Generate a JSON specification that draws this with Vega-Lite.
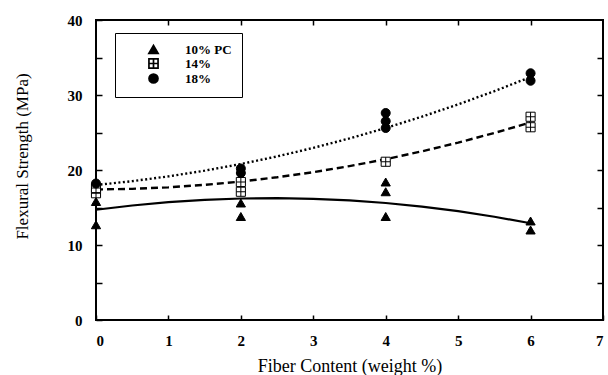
{
  "$schema": "https://vega.github.io/schema/vega-lite/v6.json",
  "width": 507,
  "height": 300,
  "autosize": "none",
  "padding": {"left": 96, "top": 20, "right": 5, "bottom": 55},
  "background": "white",
  "config": {
    "view": {"stroke": "black", "strokeWidth": 2},
    "font": "Liberation Serif",
    "axis": {"grid": false, "domain": false, "tickColor": "black", "tickWidth": 1.5, "labelColor": "black", "titleColor": "black", "labelFont": "Liberation Serif", "titleFont": "Liberation Serif", "labelFontWeight": "bold", "labelFontSize": 15, "titleFontWeight": "normal"}
  },
  "datasets": {
    "points": [
      {"series": "10% PC", "x": 0, "y": 12.7}, {"series": "10% PC", "x": 0, "y": 15.8},
      {"series": "10% PC", "x": 2, "y": 13.8}, {"series": "10% PC", "x": 2, "y": 15.6},
      {"series": "10% PC", "x": 4, "y": 13.8}, {"series": "10% PC", "x": 4, "y": 17.1}, {"series": "10% PC", "x": 4, "y": 18.4},
      {"series": "10% PC", "x": 6, "y": 12.0}, {"series": "10% PC", "x": 6, "y": 13.2},
      {"series": "14%", "x": 0, "y": 16.9}, {"series": "14%", "x": 0, "y": 17.6},
      {"series": "14%", "x": 2, "y": 17.1}, {"series": "14%", "x": 2, "y": 18.4},
      {"series": "14%", "x": 4, "y": 21.1},
      {"series": "14%", "x": 6, "y": 25.7}, {"series": "14%", "x": 6, "y": 27.1},
      {"series": "18%", "x": 0, "y": 18.2},
      {"series": "18%", "x": 2, "y": 19.6}, {"series": "18%", "x": 2, "y": 20.2},
      {"series": "18%", "x": 4, "y": 25.6}, {"series": "18%", "x": 4, "y": 26.5}, {"series": "18%", "x": 4, "y": 27.6},
      {"series": "18%", "x": 6, "y": 31.9}, {"series": "18%", "x": 6, "y": 32.9}
    ],
    "curves": [
      {"series": "10% PC", "x": 0, "y": 14.7}, {"series": "10% PC", "x": 0.5, "y": 15.27}, {"series": "10% PC", "x": 1, "y": 15.71},
      {"series": "10% PC", "x": 1.5, "y": 16.02}, {"series": "10% PC", "x": 2, "y": 16.2}, {"series": "10% PC", "x": 2.5, "y": 16.25},
      {"series": "10% PC", "x": 3, "y": 16.16}, {"series": "10% PC", "x": 3.5, "y": 15.95}, {"series": "10% PC", "x": 4, "y": 15.6},
      {"series": "10% PC", "x": 4.5, "y": 15.12}, {"series": "10% PC", "x": 5, "y": 14.51}, {"series": "10% PC", "x": 5.5, "y": 13.77},
      {"series": "10% PC", "x": 6, "y": 12.9},
      {"series": "14%", "x": 0, "y": 17.4}, {"series": "14%", "x": 0.5, "y": 17.49}, {"series": "14%", "x": 1, "y": 17.69},
      {"series": "14%", "x": 1.5, "y": 18.02}, {"series": "14%", "x": 2, "y": 18.46}, {"series": "14%", "x": 2.5, "y": 19.03},
      {"series": "14%", "x": 3, "y": 19.71}, {"series": "14%", "x": 3.5, "y": 20.52}, {"series": "14%", "x": 4, "y": 21.44},
      {"series": "14%", "x": 4.5, "y": 22.49}, {"series": "14%", "x": 5, "y": 23.65}, {"series": "14%", "x": 5.5, "y": 24.94},
      {"series": "14%", "x": 6, "y": 26.34},
      {"series": "18%", "x": 0, "y": 18.0}, {"series": "18%", "x": 0.5, "y": 18.51}, {"series": "18%", "x": 1, "y": 19.15},
      {"series": "18%", "x": 1.5, "y": 19.91}, {"series": "18%", "x": 2, "y": 20.8}, {"series": "18%", "x": 2.5, "y": 21.81},
      {"series": "18%", "x": 3, "y": 22.95}, {"series": "18%", "x": 3.5, "y": 24.21}, {"series": "18%", "x": 4, "y": 25.6},
      {"series": "18%", "x": 4.5, "y": 27.11}, {"series": "18%", "x": 5, "y": 28.75}, {"series": "18%", "x": 5.5, "y": 30.51},
      {"series": "18%", "x": 6, "y": 32.4}
    ]
  },
  "layer": [
    {
      "data": {"name": "curves"},
      "transform": [{"filter": "datum.series === '10% PC'"}],
      "mark": {"type": "line", "color": "black", "strokeWidth": 2.2},
      "encoding": {
        "x": {"field": "x", "type": "quantitative", "scale": {"domain": [0, 7], "nice": false},
              "axis": {"orient": "top", "values": [1, 2, 3, 4, 5, 6], "labels": false, "title": null, "tickSize": -5}},
        "y": {"field": "y", "type": "quantitative", "scale": {"domain": [0, 40], "nice": false},
              "axis": {"orient": "right", "values": [5, 10, 15, 20, 25, 30, 35], "labels": false, "title": null, "tickSize": -6,
                       "encode": {"ticks": {"update": {"x2": {"signal": "datum.value % 10 === 0 ? -8 : -4"}}}}}}
      }
    },
    {
      "data": {"name": "curves"},
      "transform": [{"filter": "datum.series === '14%'"}],
      "mark": {"type": "line", "color": "black", "strokeWidth": 2.4, "strokeDash": [7, 4]},
      "encoding": {
        "x": {"field": "x", "type": "quantitative", "axis": null},
        "y": {"field": "y", "type": "quantitative", "axis": null}
      }
    },
    {
      "data": {"name": "curves"},
      "transform": [{"filter": "datum.series === '18%'"}],
      "mark": {"type": "line", "color": "black", "strokeWidth": 2.4, "strokeDash": [2, 2.5]},
      "encoding": {
        "x": {"field": "x", "type": "quantitative", "axis": null},
        "y": {"field": "y", "type": "quantitative", "axis": null}
      }
    },
    {
      "data": {"name": "points"},
      "mark": {"type": "point", "filled": true, "opacity": 1, "stroke": "black", "strokeWidth": 1},
      "encoding": {
        "x": {"field": "x", "type": "quantitative", "scale": {"domain": [0, 7], "nice": false},
              "axis": {"orient": "bottom", "values": [0, 1, 2, 3, 4, 5, 6, 7], "tickSize": -5, "labelPadding": 18,
                       "title": "Fiber Content (weight %)", "titleFontSize": 18, "titleY": 51, "titleBaseline": "alphabetic"}},
        "y": {"field": "y", "type": "quantitative", "scale": {"domain": [0, 40], "nice": false},
              "axis": {"orient": "left", "values": [0, 5, 10, 15, 20, 25, 30, 35, 40], "tickSize": -6, "labelPadding": 20,
                       "labelExpr": "datum.value % 10 === 0 ? datum.label : ''",
                       "title": "Flexural Strength (MPa)", "titleFontSize": 17, "titleX": -74, "titleY": 136,
                       "titleAlign": "center", "titleBaseline": "middle", "titleAngle": -90,
                       "encode": {"ticks": {"update": {"x2": {"signal": "datum.value % 10 === 0 ? 8 : 4"}}}}}},
        "shape": {"field": "series", "type": "nominal",
                  "scale": {"domain": ["10% PC", "14%", "18%"], "range": ["triangle-up", "M-1,-1H1V1H-1ZM0,-1V1M-1,0H1", "circle"]},
                  "legend": {
                    "orient": "none", "legendX": 19, "legendY": 13, "direction": "vertical", "title": null,
                    "padding": 10, "strokeColor": "black", "fillColor": "white",
                    "symbolSize": 100, "symbolOffset": 22, "labelOffset": 25, "rowPadding": -2,
                    "labelFont": "Liberation Serif", "labelFontSize": 13, "labelFontWeight": "bold", "labelColor": "black",
                    "labelExpr": "datum.label + '\u00a0\u00a0\u00a0\u00a0'",
                    "symbolStrokeColor": "black", "symbolStrokeWidth": 1.7
                  }},
        "fill": {"field": "series", "type": "nominal",
                 "scale": {"domain": ["10% PC", "14%", "18%"], "range": ["black", "white", "black"]}},
        "size": {"field": "series", "type": "nominal",
                 "scale": {"domain": ["10% PC", "14%", "18%"], "range": [85, 81, 105]}}
      }
    }
  ],
  "resolve": {"axis": {"x": "independent", "y": "independent"}}
}
